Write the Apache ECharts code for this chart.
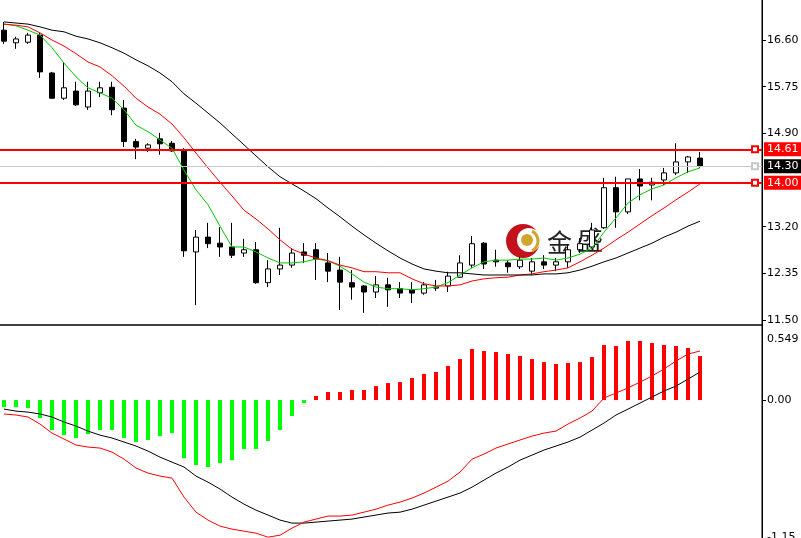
<!DOCTYPE html>
<html><head><meta charset="utf-8">
<script src="https://cdn.jsdelivr.net/npm/echarts@6/dist/echarts.min.js"></script>
<style>html,body{margin:0;padding:0;background:#fff}#c{width:801px;height:538px}</style>
</head><body><div id="c"></div>
<script>
// ---- data ----
const bars = [0,1,2,3,4,5,6,7,8,9,10,11,12,13,14,15,16,17,18,19,20,21,22,23,24,25,26,27,28,29,30,31,32,33,34,35,36,37,38,39,40,41,42,43,44,45,46,47,48,49,50,51,52,53,54,55,56,57,58];
const opens  = [16.78,16.55,16.56,16.69,16.00,15.54,15.67,15.38,15.64,15.74,15.36,14.75,14.63,14.80,14.72,14.60,12.74,13.01,12.90,12.83,12.72,12.78,12.18,12.43,12.50,12.74,12.78,12.54,12.41,12.18,12.12,12.01,12.14,12.07,12.05,11.99,12.08,12.12,12.28,12.50,12.90,12.59,12.54,12.47,12.39,12.56,12.50,12.56,12.78,12.83,13.18,13.91,13.47,14.07,13.96,14.05,14.18,14.38,14.45];
const closes = [16.58,16.62,16.69,16.02,15.54,15.73,15.42,15.67,15.73,15.33,14.75,14.65,14.69,14.71,14.58,12.76,13.01,12.89,12.83,12.68,12.78,12.18,12.43,12.50,12.72,12.68,12.61,12.39,12.19,12.10,12.01,12.14,12.05,11.99,11.99,12.14,12.10,12.30,12.54,12.89,12.52,12.56,12.47,12.59,12.56,12.50,12.56,12.78,12.89,13.14,13.91,13.47,14.07,13.94,14.01,14.18,14.38,14.47,14.30];
const lows   = [16.53,16.44,16.53,15.91,15.53,15.51,15.40,15.33,15.56,15.23,14.65,14.43,14.56,14.51,14.56,12.65,11.77,12.81,12.65,12.63,12.65,12.16,12.10,12.32,12.45,12.54,12.23,12.19,11.68,11.87,11.63,11.90,11.74,11.90,11.81,11.96,12.03,12.01,12.27,12.45,12.43,12.47,12.36,12.43,12.32,12.43,12.39,12.45,12.72,12.79,13.16,13.18,13.43,13.68,13.68,13.96,14.14,14.18,14.27];
const highs  = [16.93,16.66,16.73,16.73,16.02,16.20,15.84,15.84,15.84,15.84,15.51,14.80,14.72,14.91,14.76,14.63,13.14,13.27,13.19,13.27,12.98,12.92,12.59,13.18,12.81,12.90,12.90,12.72,12.65,12.41,12.14,12.30,12.27,12.19,12.19,12.19,12.23,12.38,12.68,13.03,12.92,12.78,12.59,12.65,12.63,12.68,12.63,12.87,12.99,13.27,14.09,14.11,14.07,14.25,14.09,14.27,14.72,14.49,14.56];
const maFast = [16.89,16.86,16.78,16.69,16.46,16.18,15.93,15.73,15.64,15.54,15.33,15.05,14.93,14.78,14.63,14.23,13.87,13.60,13.21,12.83,12.83,12.74,12.63,12.54,12.54,12.56,12.61,12.58,12.48,12.34,12.19,12.10,12.07,12.07,12.05,12.07,12.10,12.18,12.32,12.45,12.56,12.59,12.59,12.61,12.61,12.63,12.59,12.63,12.70,12.81,13.10,13.36,13.63,13.78,13.89,13.96,14.09,14.20,14.27];
const maMid  = [16.89,16.87,16.84,16.73,16.60,16.49,16.35,16.20,16.11,15.95,15.76,15.54,15.38,15.25,15.07,14.82,14.54,14.27,14.01,13.76,13.50,13.34,13.16,12.96,12.79,12.70,12.63,12.58,12.50,12.45,12.38,12.38,12.36,12.36,12.25,12.16,12.12,12.12,12.14,12.21,12.25,12.27,12.28,12.32,12.34,12.38,12.41,12.45,12.56,12.68,12.81,12.96,13.10,13.25,13.40,13.54,13.69,13.83,13.98];
const maSlow = [16.93,16.91,16.89,16.84,16.78,16.75,16.67,16.62,16.55,16.46,16.36,16.24,16.13,16.00,15.84,15.62,15.45,15.27,15.09,14.89,14.69,14.49,14.29,14.11,13.98,13.85,13.71,13.54,13.38,13.21,13.05,12.90,12.76,12.63,12.52,12.43,12.39,12.36,12.36,12.34,12.32,12.32,12.32,12.32,12.32,12.34,12.34,12.36,12.41,12.48,12.56,12.63,12.72,12.81,12.90,13.01,13.10,13.21,13.30];
const macdHist = [-0.056,-0.056,-0.064,-0.143,-0.239,-0.279,-0.302,-0.271,-0.239,-0.239,-0.302,-0.334,-0.318,-0.287,-0.263,-0.462,-0.517,-0.533,-0.501,-0.478,-0.390,-0.390,-0.326,-0.239,-0.127,-0.024,0.032,0.064,0.064,0.080,0.080,0.111,0.135,0.143,0.175,0.207,0.223,0.271,0.326,0.406,0.390,0.382,0.366,0.350,0.326,0.302,0.287,0.295,0.302,0.342,0.438,0.430,0.470,0.470,0.454,0.438,0.430,0.414,0.350];
const macdMain = [-0.072,-0.088,-0.096,-0.111,-0.135,-0.175,-0.207,-0.247,-0.279,-0.302,-0.334,-0.366,-0.406,-0.454,-0.494,-0.533,-0.605,-0.653,-0.708,-0.772,-0.828,-0.876,-0.915,-0.955,-0.979,-0.979,-0.971,-0.963,-0.955,-0.947,-0.931,-0.915,-0.899,-0.892,-0.868,-0.836,-0.804,-0.772,-0.740,-0.693,-0.637,-0.581,-0.533,-0.478,-0.438,-0.398,-0.366,-0.334,-0.295,-0.239,-0.183,-0.119,-0.072,-0.024,0.024,0.072,0.111,0.167,0.223];
const macdSignal = [-0.111,-0.119,-0.135,-0.191,-0.263,-0.310,-0.358,-0.374,-0.382,-0.414,-0.470,-0.541,-0.581,-0.605,-0.621,-0.772,-0.892,-0.955,-1.003,-1.027,-1.043,-1.059,-1.091,-1.075,-1.019,-0.971,-0.947,-0.923,-0.923,-0.915,-0.892,-0.868,-0.836,-0.812,-0.780,-0.740,-0.693,-0.645,-0.573,-0.470,-0.430,-0.382,-0.350,-0.318,-0.287,-0.263,-0.247,-0.191,-0.143,-0.088,0.016,0.056,0.096,0.143,0.191,0.247,0.310,0.366,0.390];
const priceTicks = [11.50,12.35,13.20,14.90,15.75,16.60];
const macdTicks = [-1.15,0,0.549];
const levelLines = [14.61,14.00];
const bidPrice = 14.30;

// ---- chart ----
const FONT = 'DejaVu Sans';
const chart = echarts.init(document.getElementById('c'), null, {renderer:'canvas'});
const pairs = arr => bars.map((b,i)=>[b, arr[i]]);
const candleData = bars.map((b,i)=>[b, opens[i], closes[i], lows[i], highs[i]]);
const boxLabel = (bg) => ({show:true, position:'end', distance:2, formatter:p=>p.value.toFixed(2),
  backgroundColor:bg, color:'#fff', fontFamily:FONT, fontSize:11, padding:[2,10,1,3]});
const XMIN = -7/12, XMAX = 63 + 2/12;
const macdLabel = v => {
  if (v === macdTicks[2]) return '{top|' + String(v) + '}';
  if (v === macdTicks[0]) return '{bot|' + String(v) + '}';
  return v.toFixed(2);
};
const gridBox = {show:true, borderColor:'#000', borderWidth:1, backgroundColor:'transparent', outerBoundsMode:'none', containLabel:false};
// helper x axes whose zero sits on the right edge, so the price axes' ticks sit there
const edgeAxis = g => ({type:'value', gridIndex:g, position:'top', min:-1, max:0, show:false});

chart.setOption({
  animation:false,
  backgroundColor:'#fff',
  grid:[
    Object.assign({left:-3, top:-3, width:765, height:328}, gridBox),
    Object.assign({left:-3, top:325, width:765, height:219.6}, gridBox)
  ],
  xAxis:[
    {type:'value', gridIndex:0, min:XMIN, max:XMAX, show:false, splitLine:{show:false}},
    {type:'value', gridIndex:1, min:XMIN, max:XMAX, show:false, splitLine:{show:false}},
    edgeAxis(0), edgeAxis(1)
  ],
  yAxis:[
    {type:'value', gridIndex:0, position:'right', min:11.409, max:17.384,
     axisLine:{show:true, onZero:true, onZeroAxisIndex:2, lineStyle:{color:'#000'}},
     axisTick:{show:true, length:4, inside:false, lineStyle:{color:'#000', width:1}, customValues:priceTicks},
     axisLabel:{customValues:priceTicks, formatter:v=>v.toFixed(2), color:'#000', fontFamily:FONT, fontSize:11, margin:5},
     splitLine:{show:false}},
    {type:'value', gridIndex:1, position:'right', min:-1.15, max:0.597,
     axisLine:{show:true, onZero:true, onZeroAxisIndex:3, lineStyle:{color:'#000'}},
     axisTick:{show:true, length:4, inside:false, lineStyle:{color:'#000', width:1}, customValues:[0]},
     axisLabel:{customValues:macdTicks, formatter:macdLabel, color:'#000', fontFamily:FONT, fontSize:11, margin:5,
       rich:{
         top:{fontFamily:FONT, fontSize:11, color:'#000', padding:[16,0,0,0]},
         bot:{fontFamily:FONT, fontSize:11, color:'#000', padding:[0,0,14,0]}
       }},
     splitLine:{show:false}}
  ],
  graphic:[
    {type:'circle', shape:{cx:523, cy:241, r:17}, style:{fill:'#c4121c'}},
    {type:'circle', shape:{cx:529, cy:240, r:12}, style:{fill:'#fff'}},
    {type:'arc', shape:{cx:527, cy:241, r:11, startAngle:-1.1, endAngle:1.1}, style:{stroke:'#d0a52c', lineWidth:3, fill:null}},
    {type:'circle', shape:{cx:527, cy:240, r:6}, style:{fill:'#d0a52c'}},
    {type:'text', x:547, y:242, style:{text:'金', font:'25px "Noto Sans CJK SC"', fill:'#222', verticalAlign:'middle'}},
    {type:'text', x:577, y:240, style:{text:'盛', font:'26px "Noto Sans CJK SC"', fill:'#222', verticalAlign:'middle'}}
  ],
  series:[
    {type:'candlestick', name:'price', xAxisIndex:0, yAxisIndex:0, data:candleData, encode:{x:0, y:[1,2,3,4]},
     barWidth:5, itemStyle:{color:'#fff', color0:'#000', borderColor:'#000', borderColor0:'#000', borderWidth:1},
     markLine:{silent:true, symbol:['none','emptyRect'], symbolSize:6, symbolOffset:[[0,0],[0,7]], animation:false,
       data:[
         {yAxis:levelLines[0], lineStyle:{color:'#ff0000', width:2, type:'solid'}, label:boxLabel('#ff0000')},
         {yAxis:bidPrice, symbol:'none', lineStyle:{color:'#c8c8c8', width:1, type:'solid'}, label:boxLabel('#000')},
         {yAxis:levelLines[1], lineStyle:{color:'#ff0000', width:2, type:'solid'}, label:boxLabel('#ff0000')}
       ]}},
    {type:'line', name:'MA fast', xAxisIndex:0, yAxisIndex:0, data:pairs(maFast), showSymbol:false, z:3, lineStyle:{color:'#00c800', width:1}},
    {type:'line', name:'MA mid', xAxisIndex:0, yAxisIndex:0, data:pairs(maMid), showSymbol:false, z:3, lineStyle:{color:'#ff0000', width:1}},
    {type:'line', name:'MA slow', xAxisIndex:0, yAxisIndex:0, data:pairs(maSlow), showSymbol:false, z:3, lineStyle:{color:'#000', width:1}},
    {type:'bar', name:'hist', xAxisIndex:1, yAxisIndex:1, data:pairs(macdHist), barWidth:4,
     itemStyle:{color:p=>p.value[1]>=0?'#ff0000':'#00ff00'}},
    {type:'line', name:'macd', xAxisIndex:1, yAxisIndex:1, data:pairs(macdMain), showSymbol:false, z:3, lineStyle:{color:'#000', width:1}},
    {type:'line', name:'signal', xAxisIndex:1, yAxisIndex:1, data:pairs(macdSignal), showSymbol:false, z:3, lineStyle:{color:'#ff0000', width:1}}
  ]
});
</script></body></html>
